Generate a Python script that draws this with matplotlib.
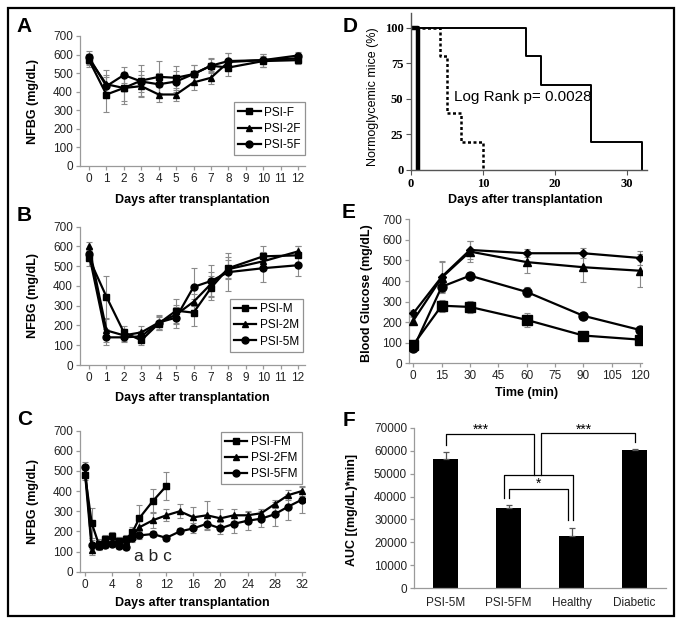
import matplotlib
matplotlib.use('Agg')
import matplotlib.pyplot as plt
from matplotlib.patches import Rectangle

plt.rcParams['font.family'] = ['Liberation Sans', 'DejaVu Sans']

# ---------------- data ----------------
# Panel A
days_A = [0, 1, 2, 3, 4, 5, 6, 7, 8, 10, 12]
psi_f = [570, 385, 420, 460, 480, 475, 495, 540, 530, 565, 570]
psi_f_err = [35, 95, 70, 85, 85, 65, 50, 40, 45, 30, 20]
psi_2f = [575, 440, 420, 430, 385, 385, 450, 475, 560, 570, 580]
psi_2f_err = [30, 75, 85, 60, 40, 35, 40, 35, 50, 35, 20]
psi_5f = [585, 430, 490, 455, 440, 455, 495, 540, 565, 570, 595]
psi_5f_err = [35, 60, 45, 55, 60, 55, 50, 35, 45, 35, 20]

# Panel B
days_B = [0, 1, 2, 3, 4, 5, 6, 7, 8, 10, 12]
psi_m = [540, 345, 165, 125, 210, 275, 265, 390, 490, 550, 555]
psi_m_err = [40, 105, 30, 25, 35, 60, 70, 60, 55, 50, 45]
psi_2m = [600, 175, 150, 165, 215, 255, 320, 410, 485, 525, 575]
psi_2m_err = [25, 60, 30, 30, 35, 50, 40, 60, 45, 45, 25]
psi_5m = [560, 140, 140, 145, 215, 240, 395, 425, 470, 490, 505]
psi_5m_err = [30, 40, 25, 25, 40, 55, 95, 80, 95, 70, 55]

# Panel C
days_FM = [0, 1, 2, 3, 4, 5, 6, 7, 8, 10, 12]
psi_fm = [480, 240, 140, 160, 175, 150, 160, 195, 265, 350, 425]
psi_fm_err = [25, 75, 20, 20, 20, 20, 20, 25, 65, 60, 70]
days_C = [0, 1, 2, 3, 4, 5, 6, 7, 8, 10, 12, 14, 16, 18, 20, 22, 24, 26, 28, 30, 32]
psi_2fm = [490, 110, 130, 140, 150, 150, 150, 175, 220, 255, 280, 300, 270, 280,
           265, 280, 280, 290, 335, 380, 400]
psi_2fm_err = [25, 25, 20, 20, 20, 20, 20, 20, 30, 40, 30, 35, 50, 70, 45, 30,
               20, 20, 20, 25, 25]
psi_5fm = [520, 135, 130, 135, 140, 130, 125, 165, 180, 187, 168, 200, 215, 238,
           215, 238, 253, 263, 285, 323, 357]
psi_5fm_err = [25, 20, 15, 15, 15, 15, 15, 20, 20, 15, 15, 15, 25, 30, 30, 45,
               45, 40, 60, 65, 65]

# Panel D (Kaplan-Meier)
km1_days = [0, 1]
km1_pct = [100, 0]
km2_days = [0, 4, 5, 7, 10]
km2_pct = [100, 80, 40, 20, 0]
km3_days = [0, 16, 18, 25, 32]
km3_pct = [100, 80, 60, 20, 0]

# Panel E
times_E = [0, 15, 30, 60, 90, 120]
e_diam = [243, 420, 551, 535, 535, 512]
e_diam_err = [15, 75, 45, 20, 25, 35]
e_tri = [208, 416, 543, 492, 467, 450]
e_tri_err = [15, 75, 50, 55, 70, 80]
e_circ = [72, 372, 426, 347, 231, 162]
e_circ_err = [10, 25, 15, 25, 15, 15]
e_sq = [90, 280, 274, 211, 135, 115]
e_sq_err = [15, 30, 30, 35, 15, 15]

# Panel F
groups_F = ['PSI-5M', 'PSI-5FM', 'Healthy', 'Diabetic']
auc = [56300, 35200, 22900, 60200]
auc_err = [3300, 900, 3300, 600]

# ---------------- figure ----------------
W, H = 683, 626
fig = plt.figure(figsize=(W / 100, H / 100), dpi=100)


def px_axes(left, top, right, bottom):
    return fig.add_axes([left / W, 1 - bottom / H, (right - left) / W, (bottom - top) / H])


GRAY = '#9a9a9a'
ERR = '#8a8a8a'


def excel_style(ax):
    for s in ['top', 'right']:
        ax.spines[s].set_visible(False)
    for s in ['left', 'bottom']:
        ax.spines[s].set_color(GRAY)
        ax.spines[s].set_linewidth(0.9)
    ax.tick_params(direction='out', length=3, color=GRAY, width=0.9,
                   labelsize=8.5, pad=2, labelcolor='#222222')


def series(ax, x, y, e, marker, ms, label=None):
    ax.errorbar(x, y, yerr=e, fmt='none', ecolor=ERR, elinewidth=0.8,
                capsize=2.2, capthick=0.8, zorder=2)
    ax.plot(x, y, color='black', lw=1.6, marker=marker, ms=ms,
            mfc='black', mec='black', label=label, zorder=3)


def legend(ax, **kw):
    lg = ax.legend(frameon=True, fancybox=False, fontsize=8.5, handlelength=1.9,
                   handletextpad=0.3, labelspacing=0.35, borderpad=0.35,
                   borderaxespad=0, **kw)
    lg.get_frame().set_edgecolor('#777777')
    lg.get_frame().set_linewidth(0.9)
    return lg


LBL = dict(fontsize=9, fontweight='bold')

# ----- A -----
axA = px_axes(80, 36, 305, 166)
series(axA, days_A, psi_f, psi_f_err, 's', 5, 'PSI-F')
series(axA, days_A, psi_2f, psi_2f_err, '^', 5, 'PSI-2F')
series(axA, days_A, psi_5f, psi_5f_err, 'o', 5, 'PSI-5F')
axA.set_xlim(-0.517, 12.4)
axA.set_ylim(0, 700)
axA.set_xticks(range(0, 13))
axA.set_yticks(range(0, 701, 100))
excel_style(axA)
axA.set_ylabel('NFBG (mg/dL)', **LBL)
axA.yaxis.set_label_coords(-0.182, 0.5)
axA.set_xlabel('Days after transplantation', **LBL)
axA.xaxis.set_label_coords(0.498, -0.215)
legend(axA, loc='lower right', bbox_to_anchor=(1.0, 0.085))

# ----- B -----
axB = px_axes(80, 226.7, 305, 365)
series(axB, days_B, psi_m, psi_m_err, 's', 5, 'PSI-M')
series(axB, days_B, psi_2m, psi_2m_err, '^', 5, 'PSI-2M')
series(axB, days_B, psi_5m, psi_5m_err, 'o', 5, 'PSI-5M')
axB.set_xlim(-0.52, 12.4)
axB.set_ylim(0, 700)
axB.set_xticks(range(0, 13))
axB.set_yticks(range(0, 701, 100))
excel_style(axB)
axB.set_ylabel('NFBG (mg/dL)', **LBL)
axB.yaxis.set_label_coords(-0.182, 0.5)
axB.set_xlabel('Days after transplantation', **LBL)
axB.xaxis.set_label_coords(0.498, -0.195)
legend(axB, loc='lower right', bbox_to_anchor=(0.992, 0.096))

# ----- C -----
axC = px_axes(80, 430.7, 305, 571.7)
series(axC, days_FM, psi_fm, psi_fm_err, 's', 5, 'PSI-FM')
series(axC, days_C, psi_2fm, psi_2fm_err, '^', 5, 'PSI-2FM')
series(axC, days_C, psi_5fm, psi_5fm_err, 'o', 5, 'PSI-5FM')
axC.set_xlim(-0.74, 32.49)
axC.set_ylim(0, 700)
axC.set_xticks(range(0, 33, 4))
axC.set_yticks(range(0, 701, 100))
excel_style(axC)
axC.set_ylabel('NFBG (mg/dL)', **LBL)
axC.yaxis.set_label_coords(-0.182, 0.5)
axC.set_xlabel('Days after transplantation', **LBL)
axC.xaxis.set_label_coords(0.498, -0.18)
legend(axC, loc='upper right', bbox_to_anchor=(0.985, 0.993))
axC.text(days_FM[-2], 75, 'a b c', ha='center', va='center', fontsize=12.5,
         color='#222222')

# ----- D -----
axD = px_axes(411, 13.4, 646.7, 170)
axD.step(km1_days, km1_pct, where='post', color='black', lw=3.2)
axD.step(km2_days, km2_pct, where='post', color='black', lw=1.8,
         linestyle=(0, (1.2, 1.0)))
axD.step(km3_days, km3_pct, where='post', color='black', lw=1.4)
axD.set_xlim(0, 32.7)
axD.set_ylim(0, 110)
axD.set_xticks([0, 10, 20, 30])
axD.set_yticks([0, 25, 50, 75, 100])
for s in ['top', 'right']:
    axD.spines[s].set_visible(False)
for s in ['left', 'bottom']:
    axD.spines[s].set_color('#555555')
    axD.spines[s].set_linewidth(1.0)
axD.tick_params(direction='out', length=3.5, color='#555555', pad=2)
for t in axD.get_xticklabels() + axD.get_yticklabels():
    t.set_family(['Liberation Serif', 'DejaVu Serif'])
    t.set_fontweight('bold')
    t.set_fontsize(9)
axD.set_ylabel('Normoglycemic mice (%)', fontsize=9)
axD.yaxis.set_label_coords(-0.136, 0.466)
axD.set_xlabel('Days after transplantation', **LBL)
axD.xaxis.set_label_coords(0.484, -0.153)
axD.text(6.0, 51, 'Log Rank p= 0.0028', ha='left', va='center', fontsize=11)

# ----- E -----
axE = px_axes(409, 219.3, 641.7, 363.3)
series(axE, times_E, e_diam, e_diam_err, 'D', 4.5)
series(axE, times_E, e_tri, e_tri_err, '^', 6)
series(axE, times_E, e_circ, e_circ_err, 'o', 6.5)
series(axE, times_E, e_sq, e_sq_err, 's', 6.5)
axE.set_xlim(-2.28, 120.9)
axE.set_ylim(0, 700)
axE.set_xticks(range(0, 121, 15))
axE.set_yticks(range(0, 701, 100))
excel_style(axE)
axE.set_ylabel('Blood Glucose (mg/dL)', **LBL)
axE.yaxis.set_label_coords(-0.155, 0.488)
axE.set_xlabel('Time (min)', **LBL)
axE.xaxis.set_label_coords(0.507, -0.165)

# ----- F -----
axF = px_axes(414, 427.7, 666, 588.3)
xF = list(range(len(groups_F)))
axF.bar(xF, auc, width=0.4, color='black', zorder=2)
axF.errorbar(xF, auc, yerr=[[0] * len(auc), auc_err], fmt='none', ecolor='#555555',
             elinewidth=0.9, capsize=2.5, capthick=0.9, zorder=3)
axF.set_xlim(-0.5, 3.5)
axF.set_ylim(0, 70000)
axF.set_xticks(xF)
axF.set_xticklabels(groups_F)
axF.set_yticks(range(0, 70001, 10000))
excel_style(axF)
axF.tick_params(axis='x', length=0, pad=6)
axF.set_ylabel('AUC [(mg/dL)*min]', **LBL)
axF.yaxis.set_label_coords(-0.222, 0.49)

# significance brackets
bk = dict(color='black', lw=0.9, zorder=4)
top_l = auc[1] + auc_err[1] + 3100
top_r = auc[2] + auc_err[2] + 3550
h_outer = 49350
h_inner = 43100
axF.plot([xF[1] - 0.07, xF[1] - 0.07, xF[2] + 0.03, xF[2] + 0.03],
         [top_l, h_outer, h_outer, top_r], **bk)
axF.plot([xF[1] + 0.01, xF[1] + 0.01, xF[2] - 0.05, xF[2] - 0.05],
         [top_l, h_inner, h_inner, top_r], **bk)
h_l = 67200
h_r = 67500
axF.plot([xF[0], xF[0], 1.41, 1.41],
         [auc[0] + auc_err[0] + 2800, h_l, h_l, h_outer], **bk)
axF.plot([1.52, 1.52, xF[3], xF[3]],
         [h_outer, h_r, h_r, auc[3] + auc_err[3] + 2800], **bk)
axF.text(0.56, 69300, '***', ha='center', va='center', fontsize=10)
axF.text(2.19, 69300, '***', ha='center', va='center', fontsize=10)
axF.text(1.47, 45600, '*', ha='center', va='center', fontsize=10)

# panel letters
for lab, (x, y) in {'A': (16, 17), 'B': (17, 206), 'C': (17, 410),
                    'D': (343, 17), 'E': (342, 203), 'F': (343, 411)}.items():
    fig.text(x / W, 1 - y / H, lab, ha='left', va='top', fontsize=15,
             fontweight='bold')

# outer frame
fig.add_artist(Rectangle((8 / W, 1 - 616 / H), 666 / W, 608 / H,
                         transform=fig.transFigure, fill=False,
                         edgecolor='black', lw=1.6))

fig.savefig('out.png', dpi=100)
